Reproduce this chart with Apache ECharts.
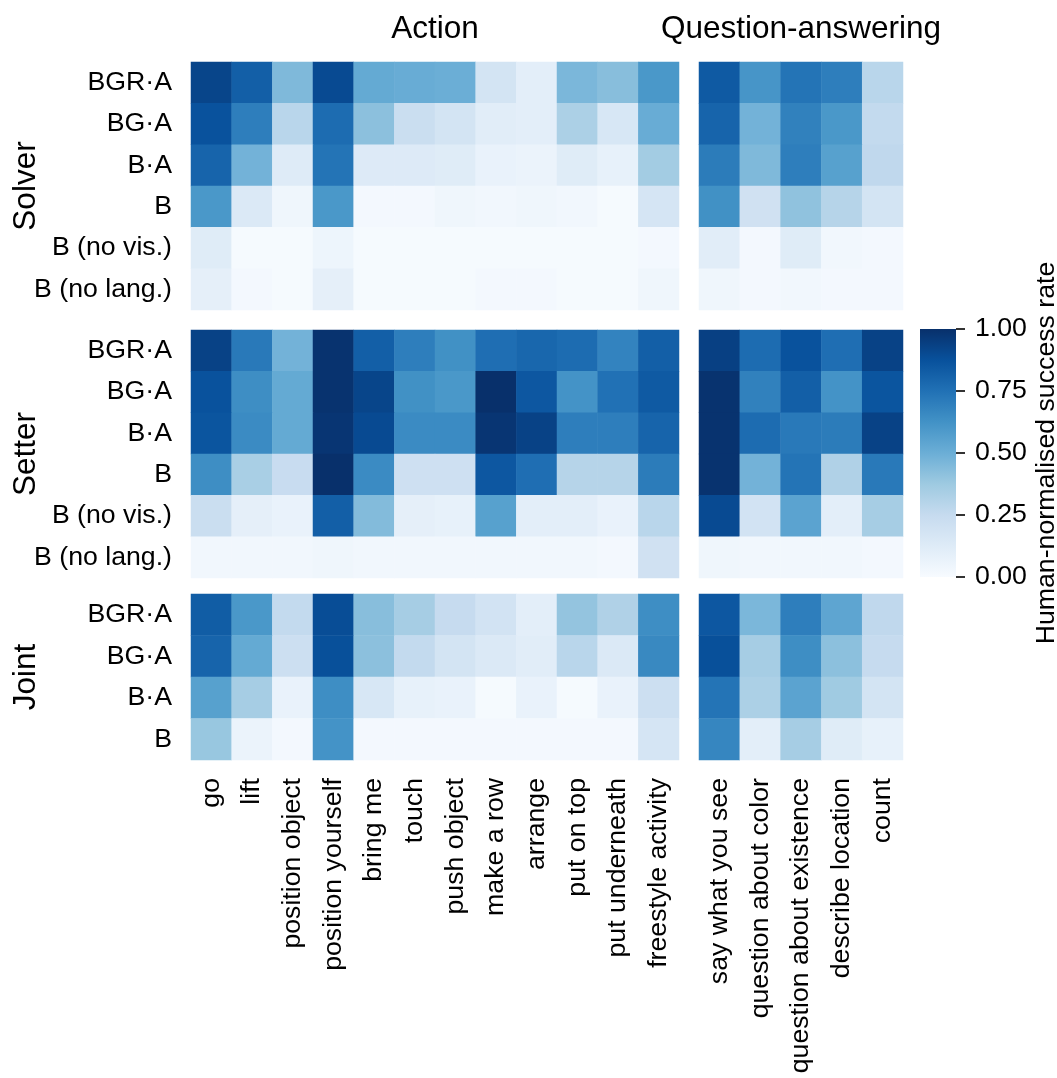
<!DOCTYPE html>
<html>
<head>
<meta charset="utf-8">
<title>Human-normalised success rate by task</title>
<script src="https://cdn.jsdelivr.net/npm/echarts@6/dist/echarts.min.js"></script>
<style>
  html, body { margin: 0; padding: 0; background: #ffffff; }
  #chart { width: 1057px; height: 1078px; }
</style>
</head>
<body>
<div id="chart"></div>
<script>
// Task categories (columns)
const actionTasks = ['go', 'lift', 'position object', 'position yourself', 'bring me', 'touch',
  'push object', 'make a row', 'arrange', 'put on top', 'put underneath', 'freestyle activity'];
const qaTasks = ['say what you see', 'question about color', 'question about existence',
  'describe location', 'count'];

// Agent variants (rows)
const solverRows = ['BGR·A', 'BG·A', 'B·A', 'B', 'B (no vis.)', 'B (no lang.)'];
const setterRows = ['BGR·A', 'BG·A', 'B·A', 'B', 'B (no vis.)', 'B (no lang.)'];
const jointRows = ['BGR·A', 'BG·A', 'B·A', 'B'];

// Colour bar ticks
const colorbarTicks = [0, 0.25, 0.5, 0.75, 1];

// Human-normalised success rates, one row per agent variant
const solverAction = [
  [0.92, 0.82, 0.45, 0.90, 0.52, 0.51, 0.50, 0.18, 0.10, 0.46, 0.43, 0.60],
  [0.87, 0.70, 0.29, 0.77, 0.42, 0.23, 0.18, 0.11, 0.10, 0.33, 0.16, 0.51],
  [0.80, 0.48, 0.125, 0.74, 0.13, 0.13, 0.12, 0.07, 0.06, 0.12, 0.08, 0.36],
  [0.60, 0.14, 0.04, 0.60, 0.02, 0.02, 0.04, 0.03, 0.04, 0.03, 0.01, 0.17],
  [0.12, 0.01, 0.01, 0.05, 0.01, 0.01, 0.01, 0.01, 0.01, 0.01, 0.01, 0.02],
  [0.09, 0.02, 0.01, 0.09, 0.01, 0.01, 0.01, 0.02, 0.02, 0.01, 0.01, 0.04]
];
const solverQA = [
  [0.84, 0.61, 0.74, 0.70, 0.29],
  [0.80, 0.48, 0.69, 0.60, 0.26],
  [0.71, 0.45, 0.70, 0.56, 0.27],
  [0.63, 0.20, 0.41, 0.30, 0.18],
  [0.11, 0.02, 0.12, 0.03, 0.02],
  [0.04, 0.02, 0.03, 0.02, 0.02]
];
const setterAction = [
  [0.93, 0.72, 0.48, 0.99, 0.82, 0.70, 0.63, 0.76, 0.79, 0.77, 0.68, 0.82],
  [0.87, 0.64, 0.52, 0.99, 0.92, 0.63, 0.60, 1.00, 0.85, 0.62, 0.75, 0.84],
  [0.86, 0.65, 0.52, 0.98, 0.90, 0.65, 0.65, 0.98, 0.93, 0.70, 0.70, 0.80],
  [0.64, 0.34, 0.24, 1.00, 0.65, 0.21, 0.21, 0.85, 0.76, 0.30, 0.30, 0.71],
  [0.23, 0.09, 0.07, 0.82, 0.44, 0.09, 0.08, 0.56, 0.10, 0.10, 0.07, 0.29],
  [0.03, 0.03, 0.03, 0.04, 0.03, 0.03, 0.03, 0.03, 0.03, 0.03, 0.02, 0.20]
];
const setterQA = [
  [0.94, 0.77, 0.87, 0.76, 0.93],
  [0.99, 0.69, 0.82, 0.62, 0.86],
  [0.99, 0.77, 0.72, 0.71, 0.93],
  [0.99, 0.48, 0.74, 0.32, 0.72],
  [0.90, 0.19, 0.55, 0.10, 0.35],
  [0.04, 0.03, 0.03, 0.03, 0.02]
];
const jointAction = [
  [0.83, 0.60, 0.26, 0.89, 0.43, 0.35, 0.25, 0.19, 0.10, 0.40, 0.32, 0.64],
  [0.80, 0.52, 0.22, 0.88, 0.42, 0.26, 0.18, 0.14, 0.11, 0.29, 0.14, 0.66],
  [0.56, 0.35, 0.07, 0.64, 0.16, 0.08, 0.07, 0.01, 0.07, 0.01, 0.07, 0.22],
  [0.39, 0.06, 0.02, 0.62, 0.02, 0.02, 0.02, 0.02, 0.02, 0.02, 0.02, 0.17]
];
const jointQA = [
  [0.85, 0.46, 0.70, 0.54, 0.27],
  [0.88, 0.35, 0.64, 0.42, 0.25],
  [0.74, 0.33, 0.55, 0.37, 0.18],
  [0.67, 0.10, 0.35, 0.12, 0.08]
];

// Blues colour ramp
const blues = ['#f7fbff', '#deebf7', '#c6dbef', '#9ecae1', '#6baed6',
  '#4292c6', '#2171b5', '#08519c', '#08306b'];

const FONT = 'Liberation Sans, Arial, Helvetica, sans-serif';
const TICK_SIZE = 26.7;
const TITLE_SIZE = 31.5;

// Panel layout: two task groups (columns) x three roles (rows)
const colBoxes = [{ left: 191, width: 488 }, { left: 699, width: 204 }];
const rowBoxes = [{ top: 62, height: 248 }, { top: 330, height: 248 }, { top: 594, height: 166 }];

const panels = [
  { rows: solverRows, cols: actionTasks, values: solverAction, r: 0, c: 0 },
  { rows: solverRows, cols: qaTasks, values: solverQA, r: 0, c: 1 },
  { rows: setterRows, cols: actionTasks, values: setterAction, r: 1, c: 0 },
  { rows: setterRows, cols: qaTasks, values: setterQA, r: 1, c: 1 },
  { rows: jointRows, cols: actionTasks, values: jointAction, r: 2, c: 0 },
  { rows: jointRows, cols: qaTasks, values: jointQA, r: 2, c: 1 }
];

const grid = [], xAxis = [], yAxis = [], series = [];

panels.forEach((p, i) => {
  grid.push({
    left: colBoxes[p.c].left, width: colBoxes[p.c].width,
    top: rowBoxes[p.r].top, height: rowBoxes[p.r].height
  });
  xAxis.push({
    type: 'category', gridIndex: i, data: p.cols, position: 'bottom',
    axisLine: { show: false }, axisTick: { show: false }, splitLine: { show: false },
    axisLabel: {
      show: p.r === 2, rotate: 90, interval: 0, margin: 18,
      fontFamily: FONT, fontSize: TICK_SIZE, color: '#000'
    }
  });
  yAxis.push({
    type: 'category', gridIndex: i, data: p.rows, inverse: true,
    axisLine: { show: false }, axisTick: { show: false }, splitLine: { show: false },
    axisLabel: {
      show: p.c === 0, interval: 0, margin: 19,
      fontFamily: FONT, fontSize: TICK_SIZE, color: '#000'
    }
  });
  const data = [];
  p.values.forEach((row, ri) => row.forEach((v, ci) => data.push([ci, ri, v])));
  series.push({
    type: 'heatmap', xAxisIndex: i, yAxisIndex: i, data: data,
    itemStyle: { borderWidth: 0 },
    emphasis: { disabled: true }, label: { show: false }
  });
});

// Colour bar
const cbIndex = panels.length;
grid.push({ left: 920, top: 329, width: 36, height: 248 });
xAxis.push({ type: 'category', gridIndex: cbIndex, data: ['scale'], show: false });
yAxis.push({
  type: 'value', gridIndex: cbIndex, position: 'right',
  min: colorbarTicks[0], max: colorbarTicks[colorbarTicks.length - 1],
  interval: colorbarTicks[1] - colorbarTicks[0],
  axisLine: { show: false }, splitLine: { show: false },
  axisTick: { show: true, length: 9, lineStyle: { color: '#000', width: 1.6 } },
  axisLabel: {
    margin: 19, fontFamily: FONT, fontSize: TICK_SIZE, color: '#000',
    formatter: v => v.toFixed(2)
  }
});
series.push({
  type: 'bar', xAxisIndex: cbIndex, yAxisIndex: cbIndex,
  data: [colorbarTicks[colorbarTicks.length - 1]], barWidth: '100%', silent: true,
  itemStyle: {
    color: new echarts.graphic.LinearGradient(0, 1, 0, 0,
      blues.map((c, k) => ({ offset: k / (blues.length - 1), color: c })))
  }
});

const textStyle = (text, size, align) => ({
  text: text, fontFamily: FONT, fontSize: size, fill: '#000',
  textAlign: align || 'center', textVerticalAlign: 'middle',
  align: align || 'center', verticalAlign: 'middle'
});

const option = {
  animation: false,
  backgroundColor: '#ffffff',
  grid: grid,
  xAxis: xAxis,
  yAxis: yAxis,
  visualMap: {
    show: false, type: 'continuous', min: 0, max: 1,
    seriesIndex: panels.map((_, i) => i),
    inRange: { color: blues }
  },
  series: series,
  graphic: [
    { type: 'text', x: 435, y: 29, style: textStyle('Action', TITLE_SIZE) },
    { type: 'text', x: 801, y: 29, style: textStyle('Question-answering', TITLE_SIZE) },
    { type: 'text', x: 26, y: 186, rotation: Math.PI / 2, style: textStyle('Solver', TITLE_SIZE) },
    { type: 'text', x: 26, y: 454, rotation: Math.PI / 2, style: textStyle('Setter', TITLE_SIZE) },
    { type: 'text', x: 26, y: 677, rotation: Math.PI / 2, style: textStyle('Joint', TITLE_SIZE) },
    { type: 'text', x: 1047, y: 453, rotation: Math.PI / 2,
      style: textStyle('Human-normalised success rate', TICK_SIZE) }
  ]
};

const chart = echarts.init(document.getElementById('chart'), null, { renderer: 'canvas' });
chart.setOption(option);
</script>
</body>
</html>
